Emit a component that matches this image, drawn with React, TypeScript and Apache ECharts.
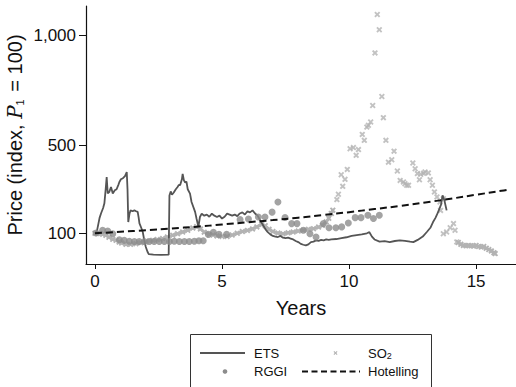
import React, { useEffect, useRef } from "react";
import * as echarts from "echarts";

// ---- Data (years since start, price index with P1 = 100) ----
const etsData: [number, number][] = [
  [0, 100], [0.08, 112], [0.18, 170], [0.24, 191], [0.32, 215], [0.37, 236], [0.42, 300], [0.46, 355],
  [0.5, 281], [0.56, 287], [0.63, 310], [0.7, 281], [0.78, 295], [0.85, 300], [0.92, 320], [0.96, 333],
  [1.02, 345], [1.1, 350], [1.18, 360], [1.25, 378], [1.28, 300], [1.31, 151], [1.36, 190], [1.4, 204],
  [1.48, 200], [1.55, 204], [1.62, 200], [1.68, 197], [1.72, 170], [1.75, 145], [1.82, 125], [1.88, 106],
  [1.94, 68], [2.0, 38], [2.07, 15], [2.12, 5], [2.3, 3], [2.6, 2], [2.9, 3], [2.93, 272], [2.98, 290],
  [3.03, 275], [3.1, 285], [3.18, 300], [3.25, 310], [3.3, 320], [3.35, 318], [3.42, 345], [3.45, 370],
  [3.5, 340], [3.55, 330], [3.6, 335], [3.65, 300], [3.74, 280], [3.8, 242], [3.94, 197], [4.0, 165],
  [4.07, 129], [4.13, 174], [4.2, 189], [4.3, 180], [4.4, 185], [4.5, 175], [4.6, 189], [4.7, 180],
  [4.8, 174], [4.9, 180], [5.0, 167], [5.1, 175], [5.2, 189], [5.3, 185], [5.4, 180], [5.5, 185],
  [5.6, 178], [5.7, 190], [5.8, 195], [5.9, 185], [6.0, 200], [6.1, 195], [6.2, 204], [6.3, 190],
  [6.4, 180], [6.5, 159], [6.6, 140], [6.7, 120], [6.8, 105], [6.9, 95], [7.0, 88], [7.1, 85], [7.2, 83],
  [7.3, 88], [7.4, 80], [7.5, 78], [7.6, 80], [7.7, 76], [7.8, 72], [7.9, 65], [8.0, 60], [8.1, 52],
  [8.2, 48], [8.3, 45], [8.4, 50], [8.5, 60], [8.6, 62], [8.7, 68], [8.8, 66], [8.9, 70], [9.0, 68],
  [9.1, 72], [9.2, 70], [9.3, 72], [9.5, 74], [9.7, 78], [9.9, 82], [10.1, 88], [10.3, 92], [10.5, 95],
  [10.7, 100], [10.8, 105], [10.9, 85], [11.0, 72], [11.2, 62], [11.4, 64], [11.6, 60], [11.8, 65],
  [12.0, 68], [12.2, 66], [12.4, 62], [12.53, 60], [12.7, 70], [12.9, 85], [13.06, 106], [13.2, 125],
  [13.3, 150], [13.4, 170], [13.45, 182], [13.55, 210], [13.62, 230], [13.68, 272], [13.75, 250], [13.84, 204],
];

const rggiData: [number, number][] = [
  [0.04, 101], [0.3, 114], [0.5, 110], [0.7, 98], [0.96, 71], [1.15, 68], [1.35, 64], [1.55, 63],
  [1.74, 63], [1.94, 63], [2.14, 63], [2.33, 63], [2.53, 63], [2.73, 63], [2.93, 63], [3.12, 64],
  [3.32, 63], [3.52, 63], [3.71, 63], [3.91, 64], [4.09, 66], [4.26, 66], [4.46, 95], [4.66, 105],
  [4.88, 95], [5.18, 95], [5.71, 162], [6.04, 165], [6.43, 174], [6.69, 174], [6.97, 196], [7.2, 242],
  [7.48, 172], [7.74, 144], [7.95, 144], [8.2, 114], [8.46, 98], [8.7, 83], [8.99, 144], [9.21, 125],
  [9.48, 125], [9.71, 129], [9.97, 147], [10.24, 171], [10.47, 171], [10.74, 182], [10.96, 167], [11.19, 182],
];

// SO2: dense stretches (overlapping markers) ...
const so2Dense: [number, number | string][] = [
  [0, 100], [0.1, 100], [0.2, 99], [0.3, 96], [0.43, 91], [0.55, 82], [0.7, 73], [0.83, 68], [0.95, 60],
  [1.05, 56], [1.22, 50], [1.4, 50], [1.61, 53], [1.8, 57], [2.0, 61], [2.15, 65], [2.27, 68], [2.45, 72],
  [2.66, 76], [2.85, 83], [3.06, 91], [3.25, 98], [3.45, 106], [3.65, 114], [3.85, 124], [4.0, 130],
  [4.15, 120], [4.3, 105], [4.5, 95], [4.65, 92], [4.8, 88], [5.0, 86], [5.2, 86], [5.4, 92], [5.6, 100],
  [5.8, 108], [6.0, 113], [6.2, 120], [6.37, 129], [6.56, 140], [6.7, 134], [6.85, 118], [7.0, 108],
  [7.2, 101], [7.4, 98], [7.6, 102], [7.8, 106], [8.0, 110], [8.2, 114], [8.4, 118], [8.6, 121],
  [8.8, 128], [8.95, 136], [9.1, 152], [9.2, 168], [9.3, 190], [9.36, 205],
  [9.4, "-"],
  [14.3, 58], [14.4, 50], [14.5, 45], [14.6, 44], [14.7, 45], [14.8, 44], [14.9, 42], [15.0, 45],
  [15.1, 40], [15.2, 38], [15.3, 40], [15.4, 32], [15.5, 26], [15.6, 20], [15.7, 12], [15.75, 8],
];

// ... and the scattered observations
const so2Sparse: [number, number][] = [
  [9.52, 253], [9.58, 277], [9.69, 366], [9.75, 313], [9.84, 345], [9.93, 390], [10.04, 484], [10.17, 489],
  [10.28, 454], [10.37, 480], [10.52, 549], [10.6, 522], [10.7, 582], [10.76, 590], [10.85, 605], [10.93, 680],
  [11.02, 919], [11.11, 1093], [11.19, 1024], [11.29, 721], [11.35, 625], [11.45, 522], [11.55, 423],
  [11.68, 434], [11.77, 473], [11.9, 383], [12.01, 340], [12.14, 333], [12.2, 325], [12.27, 318], [12.34, 318],
  [12.51, 419], [12.6, 393], [12.69, 371], [12.77, 343], [12.82, 368], [12.93, 372], [12.99, 378],
  [13.12, 374], [13.19, 343], [13.28, 318], [13.36, 288], [13.46, 265], [13.58, 242], [13.71, 257],
  [13.6, 204], [13.71, 98], [13.84, 106], [13.98, 125], [14.11, 144], [14.17, 114], [14.24, 61],
];

const hotellingData: [number, number][] = [
  [0, 100], [1, 107], [2, 114], [3, 122], [4, 130], [5, 140], [6, 150], [7, 160], [8, 171], [9, 183],
  [10, 196], [11, 210], [12, 224], [13, 240], [14, 257], [15, 275], [16, 293], [16.3, 299],
];

const xTicks = [0, 5, 10, 15];
const yTicks = [100, 500, 1000];
const yTickLabels = ["100", "500", "1,000"];

const FONT = "'Liberation Sans', Arial, Helvetica, sans-serif";
const CROSS = "path://M0,2.2L2.2,0L5,2.8L7.8,0L10,2.2L7.2,5L10,7.8L7.8,10L5,7.2L2.2,10L0,7.8L2.8,5Z";
const C_ETS = "#555555";
const C_RGGI = "#8c8c8c";
const C_SO2 = "#b3b3b3";

export default function App() {
  const ref = useRef<HTMLDivElement>(null);
  useEffect(() => {
    if (!ref.current) return;
    const chart = echarts.init(ref.current, undefined, { renderer: "svg" });
    const lx = 190;
    const ly = 334;
    chart.setOption({
      animation: false,
      backgroundColor: "#ffffff",
      grid: { left: 86, right: 0, top: 6, bottom: 123, containLabel: false },
      xAxis: {
        type: "value",
        min: -0.354,
        max: 16.57,
        name: "Years",
        nameLocation: "middle",
        nameGap: 34,
        nameTextStyle: { fontFamily: FONT, fontSize: 20, color: "#111" },
        axisLine: { show: true, onZero: false, lineStyle: { color: "#111", width: 1.2 } },
        axisTick: { show: true, customValues: xTicks, length: 5, lineStyle: { color: "#111" } },
        axisLabel: {
          customValues: xTicks,
          margin: 9,
          fontFamily: FONT,
          fontSize: 17,
          color: "#111",
        },
        splitLine: { show: false },
      },
      yAxis: {
        type: "value",
        min: -39.4,
        max: 1131.8,
        axisLine: { show: true, onZero: false, lineStyle: { color: "#111", width: 1.2 } },
        axisTick: { show: true, customValues: yTicks, length: 7, lineStyle: { color: "#111" } },
        axisLabel: {
          customValues: yTicks,
          margin: 10,
          fontFamily: FONT,
          fontSize: 17,
          color: "#111",
          formatter: (v: number) => yTickLabels[yTicks.indexOf(v)] ?? String(v),
        },
        splitLine: { show: false },
      },
      series: [
        {
          name: "SO2",
          type: "line",
          data: so2Dense,
          symbol: CROSS,
          symbolSize: 6,
          showSymbol: true,
          connectNulls: false,
          lineStyle: { color: C_SO2, width: 3 },
          itemStyle: { color: C_SO2 },
          z: 1,
        },
        {
          name: "SO2",
          type: "scatter",
          data: so2Sparse,
          symbol: CROSS,
          symbolSize: 6,
          itemStyle: { color: C_SO2 },
          z: 1,
        },
        {
          name: "ETS",
          type: "line",
          data: etsData,
          showSymbol: false,
          symbol: "none",
          lineStyle: { color: C_ETS, width: 1.8 },
          z: 2,
        },
        {
          name: "RGGI",
          type: "scatter",
          data: rggiData,
          symbol: "circle",
          symbolSize: 7,
          itemStyle: { color: C_RGGI },
          z: 3,
        },
        {
          name: "Hotelling",
          type: "line",
          data: hotellingData,
          smooth: true,
          showSymbol: false,
          symbol: "none",
          lineStyle: { color: "#111", width: 2, type: [7, 4] },
          z: 4,
        },
      ],
      graphic: [
        {
          type: "text",
          x: 15,
          y: 135,
          rotation: Math.PI / 2,
          style: {
            text: "Price (index, {i|P}{s|1} = 100)",
            fontFamily: FONT,
            fontSize: 20,
            fill: "#111",
            align: "center",
            verticalAlign: "middle",
            rich: {
              i: { fontFamily: "'DejaVu Serif', 'Liberation Serif', serif", fontStyle: "italic", fontSize: 20, fill: "#111" },
              s: { fontFamily: FONT, fontSize: 11, fill: "#111", padding: [9, 2, 0, 0] },
            },
          },
        },
        {
          type: "rect",
          shape: { x: lx + 0.5, y: ly + 0.5, width: 241, height: 70 },
          style: { fill: "#fff", stroke: "#333", lineWidth: 1 },
        },
        {
          type: "line",
          shape: { x1: lx + 10, y1: ly + 19, x2: lx + 55, y2: ly + 19 },
          style: { stroke: C_ETS, lineWidth: 1.8 },
        },
        {
          type: "text",
          x: lx + 64,
          y: ly + 19,
          style: { text: "ETS", fontFamily: FONT, fontSize: 13, fill: "#111", verticalAlign: "middle" },
        },
        {
          type: "polygon",
          x: lx + 143.5,
          y: ly + 17,
          shape: {
            points: [
              [0, 0.8], [0.8, 0], [2, 1.2], [3.2, 0], [4, 0.8], [2.8, 2], [4, 3.2], [3.2, 4],
              [2, 2.8], [0.8, 4], [0, 3.2], [1.2, 2],
            ],
          },
          style: { fill: C_SO2 },
        },
        {
          type: "text",
          x: lx + 178,
          y: ly + 19,
          style: {
            text: "SO{s|2}",
            fontFamily: FONT,
            fontSize: 13,
            fill: "#111",
            verticalAlign: "middle",
            rich: { s: { fontFamily: FONT, fontSize: 9, fill: "#111", padding: [6, 0, 0, 0] } },
          },
        },
        {
          type: "circle",
          shape: { cx: lx + 35, cy: ly + 37.5, r: 2.3 },
          style: { fill: C_RGGI },
        },
        {
          type: "text",
          x: lx + 64,
          y: ly + 37.5,
          style: { text: "RGGI", fontFamily: FONT, fontSize: 13, fill: "#111", verticalAlign: "middle" },
        },
        {
          type: "line",
          shape: { x1: lx + 112, y1: ly + 37.5, x2: lx + 170, y2: ly + 37.5 },
          style: { stroke: "#111", lineWidth: 2, lineDash: [6, 3.5] },
        },
        {
          type: "text",
          x: lx + 178,
          y: ly + 37.5,
          style: { text: "Hotelling", fontFamily: FONT, fontSize: 13, fill: "#111", verticalAlign: "middle" },
        },
      ],
    });
    return () => chart.dispose();
  }, []);
  return (
    <div
      ref={ref}
      style={{ position: "fixed", left: 0, top: 0, width: 516, height: 387, background: "#fff" }}
    />
  );
}
